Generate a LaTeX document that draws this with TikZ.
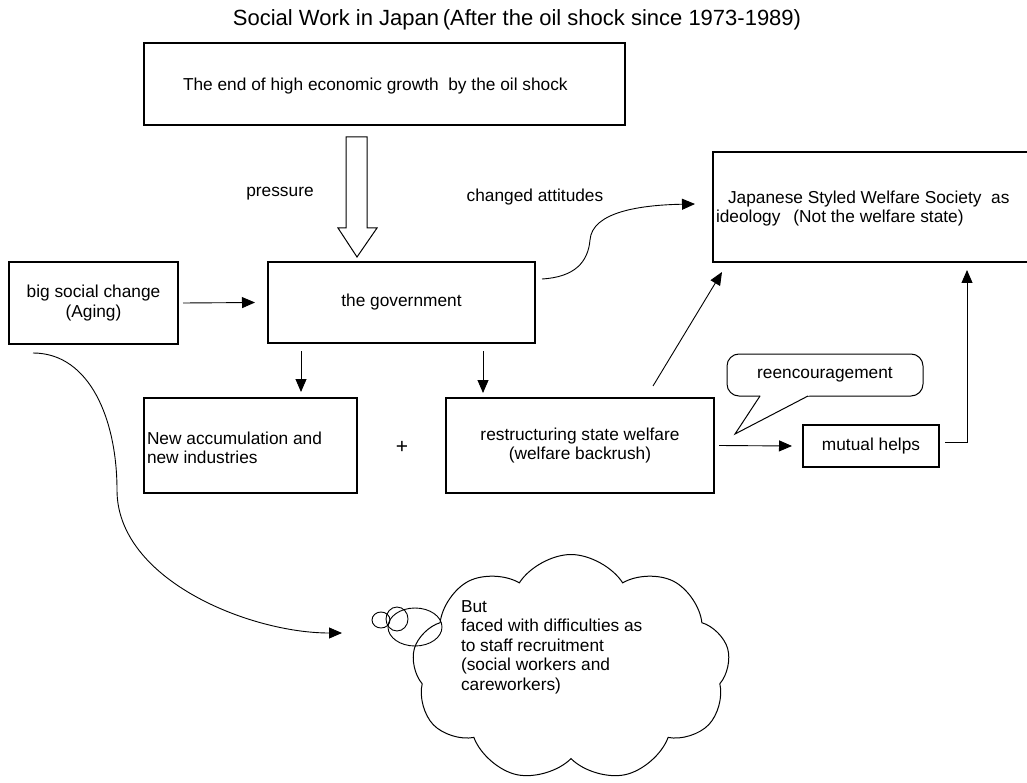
\documentclass[tikz,border=0pt]{standalone}
\usepackage{fontspec}
\setmainfont{Liberation Sans}
\usetikzlibrary{arrows.meta,shapes.symbols,calc}
\begin{document}
\begin{tikzpicture}[x=1pt,y=-1pt,
 every node/.style={inner sep=0pt, outer sep=0pt},
 box/.style={draw, line width=1.4pt, rectangle},
 txt/.style={font=\fontsize{17.3}{19.5}\selectfont, align=center},
 arr/.style={line width=0.9pt, -{Triangle[length=13pt,width=11pt]}},
 con/.style={line width=0.9pt},
]
\useasboundingbox (0,0) rectangle (1027,783);
\fill[white] (0,0) rectangle (1027,783);
\clip (0,0) rectangle (1027,783);

% title
\node[font=\fontsize{22}{26}\selectfont] (title) at (517,20) {Social Work in Japan\,(After the oil shock since 1973-1989)};

% boxes
\node[box, minimum width=481, minimum height=82] (top) at (384.5,84) {};
\node[txt, anchor=west] (ttop) at (183,86) {The end of high economic growth\ \ by the oil shock};

\node[box, minimum width=169, minimum height=82, txt] (lbox) at (93.5,303) {big social change\\(Aging)};
\node[box, minimum width=267, minimum height=81, txt] (gov) at (401.5,302.5) {the government};
\node[box, minimum width=213, minimum height=95] (acc) at (250.5,445.5) {};
\node[txt, align=left, anchor=west] (tacc) at (147,448) {New accumulation and\\new industries};
\node[box, minimum width=268, minimum height=95, txt] (rest) at (580,445.5) {restructuring state welfare\\(welfare backrush)};
\node[box, minimum width=322, minimum height=110] (jap) at (874,207) {};
\node[txt, anchor=west] (jap1) at (728,199) {Japanese Styled Welfare Society\ \ as};
\node[txt, anchor=west] (jap2) at (716,218) {ideology\hspace{13pt}(Not the welfare state)};
\node[box, minimum width=136, minimum height=42, txt] (mut) at (871,446) {mutual helps};

% labels
\node[txt] (press) at (280,194) {pressure};
\node[txt] (chg) at (535,197) {changed attitudes};
\node[txt, font=\fontsize{21}{21}\selectfont] (plus) at (402,447) {+};

% hollow arrow
\draw[line width=1pt, fill=white] (346,137) -- (346,228) -- (338,228) -- (357,257) -- (377,228) -- (367,228) -- (367,137) -- cycle;

% connectors
\draw[arr] ([xshift=5]lbox.east) -- ([xshift=-13]gov.west);
\draw[arr] ($(gov.south west)+(33,8)$) -- ($(acc.north west)+(157,-6)$);
\draw[arr] ($(gov.south west)+(215,8)$) -- ($(rest.north west)+(37,-5)$);
\draw[arr] ($(gov.east)+(7,-23.5)$) .. controls (575,277) and (588,262) .. (590,240)
   .. controls (592,212) and (640,205) .. ($(jap.west)+(-18,-3)$);
\draw[arr] ($(rest.north west)+(207,-12)$) -- ($(jap.south west)+(9,10)$);
\draw[arr] ([xshift=5]rest.east) -- ([xshift=-11]mut.west);
\draw[arr] ($(mut.east)+(6,-4)$) -| ($(jap.south west)+(254,8)$);

% callout
\node[draw, line width=1pt, rounded corners=12pt, minimum width=196, minimum height=42, fill=white, txt] (call) at (825,375) {reencouragement};
\fill[white] (760.66,395) -- (735,434) -- (809.9,395) -- cycle;
\draw[line width=1pt] (760,396) -- (735,434) -- (808,396);

% cloud
\node[cloud, draw, line width=1pt, cloud puffs=9, cloud puff arc=115, aspect=1.4, minimum width=318, minimum height=227] (cloud) at (571,668) {};
\node[txt, align=left, anchor=west] (tcloud) at (461,647) {But\\faced with difficulties as\\to staff recruitment\\(social workers and\\careworkers)};
\draw[line width=0.9pt] (381,620) ellipse [x radius=9, y radius=8];
\draw[line width=0.9pt] (397,619) ellipse [x radius=11, y radius=12];
\draw[line width=0.9pt] (415,627) ellipse [x radius=27, y radius=19];

\coordinate (cin) at (342,633);
\draw[arr] ($(lbox.south west)+(24,9)$) .. controls (90,353) and (117,420) .. (117,490)
   .. controls (117,580) and (250,633) .. (cin);
\end{tikzpicture}
\end{document}
